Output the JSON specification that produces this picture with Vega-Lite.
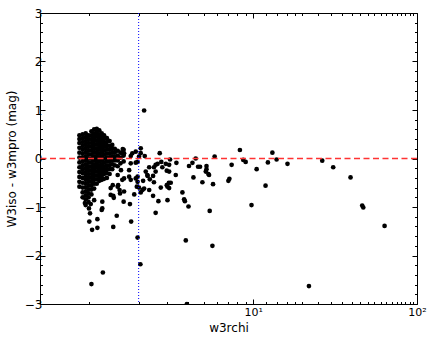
{
  "$schema": "https://vega.github.io/schema/vega-lite/v6.json",
  "width": 377,
  "height": 291,
  "autosize": "none",
  "padding": {"left": 40, "top": 13, "right": 19, "bottom": 38},
  "background": "white",
  "config": {
    "view": {"stroke": "#000", "strokeWidth": 1},
    "axis": {
      "domain": false,
      "grid": false,
      "labelFont": "DejaVu Sans",
      "titleFont": "DejaVu Sans",
      "labelColor": "#000",
      "titleColor": "#000",
      "tickColor": "#000",
      "tickWidth": 1,
      "titleFontWeight": "normal",
      "labelFontSize": 12,
      "titleFontSize": 12,
      "labelOverlap": false,
      "labelFlush": false
    }
  },
  "datasets": {
    "pts": [
      {"x":0.87,"y":0.48},{"x":0.87,"y":0.40},{"x":0.87,"y":0.32},{"x":0.87,"y":0.22},{"x":0.87,"y":0.12},{"x":0.87,"y":0.02},{"x":0.87,"y":-0.08},{"x":0.87,"y":-0.18},{"x":0.87,"y":-0.28},{"x":0.87,"y":-0.38},{"x":0.87,"y":-0.48},{"x":0.87,"y":-0.58},
      {"x":0.91,"y":0.50},{"x":0.91,"y":0.42},{"x":0.91,"y":0.34},{"x":0.91,"y":0.26},{"x":0.91,"y":0.18},{"x":0.91,"y":0.10},{"x":0.91,"y":0.02},{"x":0.91,"y":-0.06},{"x":0.91,"y":-0.14},{"x":0.91,"y":-0.22},{"x":0.91,"y":-0.30},{"x":0.91,"y":-0.40},{"x":0.91,"y":-0.50},{"x":0.91,"y":-0.60},{"x":0.91,"y":-0.70},{"x":0.91,"y":-0.80},
      {"x":0.95,"y":0.52},{"x":0.95,"y":0.44},{"x":0.95,"y":0.36},{"x":0.95,"y":0.28},{"x":0.95,"y":0.20},{"x":0.95,"y":0.12},{"x":0.95,"y":0.04},{"x":0.95,"y":-0.04},{"x":0.95,"y":-0.12},{"x":0.95,"y":-0.20},{"x":0.95,"y":-0.28},{"x":0.95,"y":-0.36},{"x":0.95,"y":-0.44},{"x":0.95,"y":-0.52},{"x":0.95,"y":-0.60},{"x":0.95,"y":-0.68},{"x":0.95,"y":-0.76},{"x":0.95,"y":-0.84},
      {"x":0.99,"y":0.48},{"x":0.99,"y":0.40},{"x":0.99,"y":0.32},{"x":0.99,"y":0.24},{"x":0.99,"y":0.16},{"x":0.99,"y":0.08},{"x":0.99,"y":0.00},{"x":0.99,"y":-0.08},{"x":0.99,"y":-0.16},{"x":0.99,"y":-0.24},{"x":0.99,"y":-0.32},{"x":0.99,"y":-0.40},{"x":0.99,"y":-0.48},{"x":0.99,"y":-0.56},{"x":0.99,"y":-0.64},{"x":0.99,"y":-0.72},{"x":0.99,"y":-0.80},{"x":0.99,"y":-0.90},
      {"x":1.03,"y":0.56},{"x":1.03,"y":0.48},{"x":1.03,"y":0.40},{"x":1.03,"y":0.32},{"x":1.03,"y":0.24},{"x":1.03,"y":0.16},{"x":1.03,"y":0.08},{"x":1.03,"y":0.00},{"x":1.03,"y":-0.08},{"x":1.03,"y":-0.16},{"x":1.03,"y":-0.24},{"x":1.03,"y":-0.32},{"x":1.03,"y":-0.40},{"x":1.03,"y":-0.48},{"x":1.03,"y":-0.56},{"x":1.03,"y":-0.64},{"x":1.03,"y":-0.74},
      {"x":1.07,"y":0.60},{"x":1.07,"y":0.52},{"x":1.07,"y":0.44},{"x":1.07,"y":0.36},{"x":1.07,"y":0.28},{"x":1.07,"y":0.20},{"x":1.07,"y":0.12},{"x":1.07,"y":0.04},{"x":1.07,"y":-0.04},{"x":1.07,"y":-0.12},{"x":1.07,"y":-0.20},{"x":1.07,"y":-0.28},{"x":1.07,"y":-0.36},{"x":1.07,"y":-0.44},{"x":1.07,"y":-0.52},{"x":1.07,"y":-0.62},
      {"x":1.11,"y":0.61},{"x":1.11,"y":0.53},{"x":1.11,"y":0.45},{"x":1.11,"y":0.37},{"x":1.11,"y":0.29},{"x":1.11,"y":0.21},{"x":1.11,"y":0.13},{"x":1.11,"y":0.05},{"x":1.11,"y":-0.03},{"x":1.11,"y":-0.11},{"x":1.11,"y":-0.19},{"x":1.11,"y":-0.27},{"x":1.11,"y":-0.35},{"x":1.11,"y":-0.43},{"x":1.11,"y":-0.52},
      {"x":1.15,"y":0.58},{"x":1.15,"y":0.50},{"x":1.15,"y":0.42},{"x":1.15,"y":0.34},{"x":1.15,"y":0.26},{"x":1.15,"y":0.18},{"x":1.15,"y":0.10},{"x":1.15,"y":0.02},{"x":1.15,"y":-0.06},{"x":1.15,"y":-0.14},{"x":1.15,"y":-0.22},{"x":1.15,"y":-0.30},{"x":1.15,"y":-0.38},{"x":1.15,"y":-0.46},
      {"x":1.19,"y":0.52},{"x":1.19,"y":0.44},{"x":1.19,"y":0.36},{"x":1.19,"y":0.28},{"x":1.19,"y":0.20},{"x":1.19,"y":0.12},{"x":1.19,"y":0.04},{"x":1.19,"y":-0.04},{"x":1.19,"y":-0.12},{"x":1.19,"y":-0.20},{"x":1.19,"y":-0.28},{"x":1.19,"y":-0.36},{"x":1.19,"y":-0.44},
      {"x":1.23,"y":0.48},{"x":1.23,"y":0.40},{"x":1.23,"y":0.32},{"x":1.23,"y":0.24},{"x":1.23,"y":0.16},{"x":1.23,"y":0.08},{"x":1.23,"y":0.00},{"x":1.23,"y":-0.08},{"x":1.23,"y":-0.16},{"x":1.23,"y":-0.24},{"x":1.23,"y":-0.32},{"x":1.23,"y":-0.42},
      {"x":1.28,"y":0.42},{"x":1.28,"y":0.34},{"x":1.28,"y":0.26},{"x":1.28,"y":0.18},{"x":1.28,"y":0.10},{"x":1.28,"y":0.02},{"x":1.28,"y":-0.06},{"x":1.28,"y":-0.14},{"x":1.28,"y":-0.22},{"x":1.28,"y":-0.30},{"x":1.28,"y":-0.40},
      {"x":1.33,"y":0.36},{"x":1.33,"y":0.26},{"x":1.33,"y":0.18},{"x":1.33,"y":0.10},{"x":1.33,"y":0.02},{"x":1.33,"y":-0.06},{"x":1.33,"y":-0.14},{"x":1.33,"y":-0.22},{"x":1.33,"y":-0.32},
      {"x":1.38,"y":0.28},{"x":1.38,"y":0.20},{"x":1.38,"y":0.12},{"x":1.38,"y":0.04},{"x":1.38,"y":-0.04},{"x":1.38,"y":-0.12},{"x":1.38,"y":-0.22},
      {"x":1.43,"y":0.20},{"x":1.43,"y":0.12},{"x":1.43,"y":0.04},{"x":1.43,"y":-0.04},{"x":1.43,"y":-0.14},
      {"x":1.49,"y":0.16},{"x":1.49,"y":0.06},{"x":1.49,"y":-0.04},{"x":1.49,"y":-0.16},
      {"x":1.55,"y":0.12},{"x":1.55,"y":0.02},{"x":1.55,"y":-0.10},
      {"x":1.62,"y":0.18},{"x":1.62,"y":0.06},{"x":1.62,"y":-0.06},
      {"x":2.16,"y":0.99},{"x":1.79,"y":0.05},{"x":1.92,"y":0.14},{"x":2.06,"y":0.11},{"x":2.18,"y":0.05},{"x":2.69,"y":0.11},{"x":4.46,"y":0.0},{"x":5.82,"y":0.04},{"x":8.3,"y":0.175},{"x":8.7,"y":-0.03},{"x":9.0,"y":-0.07},{"x":10.5,"y":-0.22},{"x":11.9,"y":-0.56},{"x":12.3,"y":-0.08},{"x":13.1,"y":0.12},{"x":13.9,"y":-0.02},{"x":16.2,"y":-0.11},{"x":26.4,"y":-0.045},{"x":30.8,"y":-0.18},{"x":39.3,"y":-0.39},{"x":46.3,"y":-0.97},{"x":47.0,"y":-1.01},{"x":63.4,"y":-1.39},{"x":21.9,"y":-2.63},{"x":9.77,"y":-0.96},
      {"x":7.06,"y":-0.46},{"x":7.16,"y":-0.42},{"x":7.39,"y":-0.13},{"x":5.69,"y":-0.53},{"x":4.9,"y":-0.49},{"x":4.32,"y":-0.39},{"x":3.40,"y":-0.09},{"x":3.37,"y":-0.34},{"x":3.11,"y":-0.02},{"x":5.19,"y":-0.155},{"x":5.19,"y":-0.22},{"x":5.33,"y":-0.32},{"x":4.26,"y":-0.09},{"x":4.06,"y":-0.155},{"x":4.61,"y":-0.17},{"x":4.74,"y":-0.17},{"x":3.70,"y":-0.70},{"x":3.79,"y":-0.84},{"x":3.83,"y":-0.88},{"x":4.03,"y":-0.99},{"x":3.0,"y":-0.86},{"x":2.64,"y":-0.88},{"x":2.45,"y":-0.77},{"x":2.32,"y":-0.65},{"x":2.11,"y":-0.65},{"x":2.54,"y":-1.12},{"x":5.43,"y":-1.08},{"x":1.97,"y":-1.63},{"x":3.88,"y":-1.69},{"x":5.64,"y":-1.80},{"x":2.05,"y":-2.18},{"x":1.21,"y":-2.35},{"x":1.03,"y":-2.59},{"x":3.94,"y":-3.0},
      {"x":1.80,"y":-1.30},{"x":1.47,"y":-1.18},{"x":1.40,"y":-1.41},{"x":1.04,"y":-1.47},{"x":1.12,"y":-1.43},{"x":1.0,"y":-1.30},{"x":1.12,"y":-1.25},{"x":1.19,"y":-1.06},{"x":1.01,"y":-1.13},{"x":0.995,"y":-1.03},{"x":1.62,"y":-0.89},{"x":1.77,"y":-0.94},{"x":1.88,"y":-0.74},{"x":0.94,"y":-0.92},{"x":1.07,"y":-0.86},{"x":1.20,"y":-0.89},{"x":1.41,"y":-0.81},{"x":1.35,"y":-0.75},{"x":1.53,"y":-0.65},{"x":1.63,"y":-0.68},
      {"x":2.32,"y":-0.18},{"x":2.48,"y":-0.18},{"x":2.54,"y":-0.13},{"x":2.61,"y":-0.11},{"x":2.75,"y":-0.07},{"x":2.93,"y":-0.11},{"x":3.07,"y":-0.13},{"x":2.79,"y":-0.18},{"x":2.97,"y":-0.25},{"x":2.54,"y":-0.27},{"x":2.21,"y":-0.27},{"x":2.27,"y":-0.36},{"x":2.45,"y":-0.36},{"x":2.34,"y":-0.43},{"x":2.13,"y":-0.46},{"x":2.48,"y":-0.49},{"x":2.73,"y":-0.60},{"x":3.0,"y":-0.58},{"x":3.06,"y":-0.50},{"x":3.14,"y":-0.50},{"x":1.97,"y":-0.07},{"x":2.01,"y":-0.60},
      {"x":1.75,"y":-0.375},{"x":1.97,"y":-0.375},{"x":1.95,"y":-0.58},{"x":2.06,"y":-0.70},{"x":2.16,"y":-0.62},{"x":2.26,"y":-0.34},{"x":2.97,"y":-0.55},{"x":3.07,"y":-0.61},{"x":3.07,"y":-0.27},{"x":5.38,"y":-0.34},{"x":5.14,"y":-0.27},{"x":1.60,"y":0.196},{"x":1.59,"y":0.11},{"x":1.50,"y":-0.55},{"x":1.59,"y":-0.44},{"x":1.54,"y":-0.72},{"x":1.40,"y":-0.77},{"x":1.35,"y":-0.61},{"x":1.20,"y":-1.03},{"x":0.95,"y":-0.96},{"x":1.02,"y":-0.94},
      {"x":1.63,"y":0.107},{"x":1.83,"y":0.107},{"x":1.79,"y":-0.10},{"x":1.92,"y":-0.087},{"x":1.75,"y":-0.24},{"x":1.56,"y":-0.24},{"x":1.49,"y":-0.34},{"x":1.63,"y":-0.41},{"x":1.79,"y":-0.44},{"x":1.97,"y":-0.48},{"x":1.39,"y":-0.55},{"x":1.49,"y":-0.58},{"x":2.01,"y":0.04},{"x":1.92,"y":-0.41},{"x":2.06,"y":0.21}
    ]
  },
  "resolve": {"axis": {"x": "independent", "y": "independent"}},
  "layer": [
    {
      "data": {"name": "pts"},
      "mark": {"type": "circle", "color": "#000", "opacity": 1, "size": 22, "clip": true},
      "encoding": {
        "x": {
          "field": "x", "type": "quantitative",
          "scale": {"type": "log", "domain": [0.5, 100], "nice": false},
          "axis": {
            "orient": "bottom",
            "title": "w3rchi",
            "values": [1,2,3,4,5,6,7,8,9,10,12,14,16,18,20,25,30,35,40,45,50,55,60,65,70,75,80,85,90,95,100],
            "labelExpr": "datum.value == 10 ? '10¹' : (datum.value == 100 ? '10²' : '')",
            "tickSize": {"condition": {"test": "datum.value == 10 || datum.value == 100", "value": -5}, "value": -2.5},
            "labelPadding": 7,
            "labelFontSize": 11,
            "titlePadding": 3
          }
        },
        "y": {
          "field": "y", "type": "quantitative",
          "scale": {"domain": [-3, 3], "nice": false, "zero": false},
          "axis": {
            "orient": "left",
            "title": "W3iso - w3mpro (mag)",
            "values": [-3,-2.8,-2.6,-2.4,-2.2,-2,-1.8,-1.6,-1.4,-1.2,-1,-0.8,-0.6,-0.4,-0.2,0,0.2,0.4,0.6,0.8,1,1.2,1.4,1.6,1.8,2,2.2,2.4,2.6,2.8,3],
            "labelExpr": "abs(datum.value - round(datum.value)) < 0.001 ? format(round(datum.value), 'd') : ''",
            "tickSize": {"condition": {"test": "abs(datum.value - round(datum.value)) < 0.001", "value": -5}, "value": -2.5},
            "labelPadding": 3,
            "titlePadding": 6
          }
        }
      }
    },
    {
      "data": {"name": "pts"},
      "mark": {"type": "circle", "opacity": 0},
      "encoding": {
        "x": {
          "field": "x", "type": "quantitative",
          "scale": {"type": "log", "domain": [0.5, 100], "nice": false},
          "axis": {
            "orient": "top", "title": null, "labels": false,
            "values": [1,2,3,4,5,6,7,8,9,10,12,14,16,18,20,25,30,35,40,45,50,55,60,65,70,75,80,85,90,95,100],
            "tickSize": {"condition": {"test": "datum.value == 10 || datum.value == 100", "value": -5}, "value": -2.5}
          }
        },
        "y": {
          "field": "y", "type": "quantitative",
          "scale": {"domain": [-3, 3], "nice": false, "zero": false},
          "axis": {
            "orient": "right", "title": null, "labels": false,
            "values": [-3,-2.8,-2.6,-2.4,-2.2,-2,-1.8,-1.6,-1.4,-1.2,-1,-0.8,-0.6,-0.4,-0.2,0,0.2,0.4,0.6,0.8,1,1.2,1.4,1.6,1.8,2,2.2,2.4,2.6,2.8,3],
            "tickSize": {"condition": {"test": "abs(datum.value - round(datum.value)) < 0.001", "value": -5}, "value": -2.5}
          }
        }
      }
    },
    {
      "data": {"values": [{"y": 0}]},
      "mark": {"type": "rule", "color": "#ff3333", "strokeWidth": 1.5, "strokeDash": [6, 3.5]},
      "encoding": {"y": {"field": "y", "type": "quantitative", "axis": null}}
    },
    {
      "data": {"values": [{"x": 2}]},
      "mark": {"type": "rule", "color": "#0000ff", "strokeWidth": 1, "strokeDash": [1, 2]},
      "encoding": {"x": {"field": "x", "type": "quantitative", "axis": null}}
    }
  ]
}
